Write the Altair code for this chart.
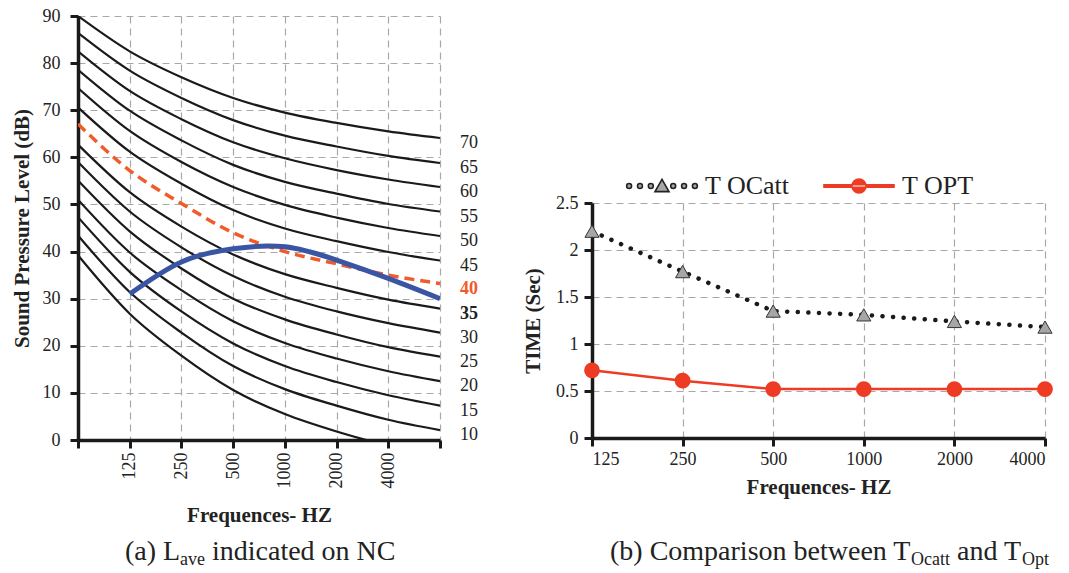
import json
import altair as alt
import pandas as pd

FONT = "Liberation Serif"

# ---------------- panel (a): NC curves ----------------
x_pos = [0, 1, 2, 3, 4, 5, 6, 7]
freq_labels_a = ["", "125", "250", "500", "1000", "2000", "4000", ""]

nc70 = [90.0, 82.5, 77.0, 72.6, 69.5, 67.3, 65.5, 64.1]
nc65 = [86.4, 78.4, 72.6, 67.9, 64.6, 62.3, 60.3, 58.8]
nc60 = [82.5, 74.1, 68.1, 63.2, 59.8, 57.3, 55.3, 53.7]
nc55 = [78.6, 69.9, 63.6, 58.4, 54.8, 52.3, 50.1, 48.5]
nc50 = [74.7, 65.6, 59.0, 53.7, 49.9, 47.2, 45.0, 43.3]
nc45 = [70.6, 61.2, 54.4, 48.8, 44.9, 42.2, 39.9, 38.1]
nc40 = [67.1, 57.2, 50.2, 44.0, 40.0, 37.4, 35.0, 33.2]
nc35 = [62.7, 52.6, 45.3, 39.4, 35.2, 32.3, 29.8, 27.9]
nc30 = [59.0, 48.5, 40.9, 34.8, 30.4, 27.3, 24.8, 22.8]
nc25 = [55.1, 44.3, 36.4, 30.0, 25.6, 22.4, 19.7, 17.7]
nc20 = [51.0, 39.8, 31.8, 25.2, 20.6, 17.3, 14.6, 12.5]
nc15 = [47.3, 35.7, 27.3, 20.5, 15.7, 12.3, 9.5, 7.3]
nc10 = [43.4, 31.4, 22.8, 15.7, 10.8, 7.3, 4.3, 2.1]
nc05 = [39.2, 26.8, 17.9, 10.6, 5.5, 1.8, -1.2, -3.5]

lave_pos = [1, 2, 3, 4, 5, 6, 7]
lave = [31.0, 37.8, 40.6, 41.0, 38.2, 34.3, 30.0]

black_curves = {
    "70": nc70, "65": nc65, "60": nc60, "55": nc55, "50": nc50, "45": nc45,
    "35": nc35, "30": nc30, "25": nc25, "20": nc20, "15": nc15, "10": nc10,
    "05": nc05,
}
label_names = ["70", "65", "60", "55", "50", "45", "35", "30", "25", "20", "15", "10"]

rows = []
for name, vals in black_curves.items():
    for p, v in zip(x_pos, vals):
        rows.append({"nc": name, "pos": p, "db": v})
df_black = pd.DataFrame(rows)
df_orange = pd.DataFrame({"pos": x_pos, "db": nc40})
df_blue = pd.DataFrame({"pos": lave_pos, "db": lave})
df_lab = pd.DataFrame({
    "lab": label_names,
    "pos": [x_pos[-1]] * len(label_names),
    "db": [black_curves[n][-1] for n in label_names],
})
df_lab_norm = df_lab[df_lab["lab"] != "35"]
df_lab_35 = df_lab[df_lab["lab"] == "35"]
df_lab_40 = pd.DataFrame({"lab": ["40"], "pos": [x_pos[-1]], "db": [nc40[-1]]})

WA, HA = 362, 424

xa = alt.X(
    "pos:Q",
    scale=alt.Scale(domain=[0, 7], nice=False, zero=False),
    axis=alt.Axis(
        values=x_pos,
        labelExpr=json.dumps(freq_labels_a) + "[datum.value]",
        labelAngle=270,
        title="Frequences- HZ",
        titlePadding=16,
        labelPadding=4,
    ),
)
ya = alt.Y(
    "db:Q",
    scale=alt.Scale(domain=[0, 90], nice=False),
    axis=alt.Axis(values=list(range(0, 91, 10)), title="Sound Pressure Level (dB)",
                  labelPadding=10, titlePadding=10),
)

black = alt.Chart(df_black).mark_line(
    color="#1a1a1a", strokeWidth=2.2, interpolate="monotone", clip=True
).encode(x=xa, y=ya, detail="nc:N")

orange = alt.Chart(df_orange).mark_line(
    color="#f15a29", strokeWidth=3.5, strokeDash=[10, 6], interpolate="monotone", clip=True
).encode(x="pos:Q", y="db:Q")

blue = alt.Chart(df_blue).mark_line(
    color="#3b55a5", strokeWidth=5, interpolate="natural", clip=True
).encode(x="pos:Q", y="db:Q")

lab_norm = alt.Chart(df_lab_norm).mark_text(
    align="left", baseline="middle", dx=20, dy=5, font=FONT, fontSize=18, color="#222"
).encode(x="pos:Q", y="db:Q", text="lab:N")
lab_35 = alt.Chart(df_lab_35).mark_text(
    align="left", baseline="middle", dx=20, dy=5, font=FONT, fontSize=18,
    fontWeight="bold", color="#222"
).encode(x="pos:Q", y="db:Q", text="lab:N")
lab_40 = alt.Chart(df_lab_40).mark_text(
    align="left", baseline="middle", dx=20, dy=5, font=FONT, fontSize=18,
    fontWeight="bold", color="#f15a29"
).encode(x="pos:Q", y="db:Q", text="lab:N")

one = pd.DataFrame({"k": [0]})
CAP = 28
SUB = 18


def cap(txt, x, y, size):
    return alt.Chart(one).mark_text(
        text=txt, align="left", baseline="alphabetic", font=FONT, fontSize=size, color="#222"
    ).encode(x=alt.value(x), y=alt.value(y))


cap_a = [
    cap("(a) L", 47, 544, CAP),
    cap("ave", 102, 549, SUB),
    cap("indicated on NC", 134, 544, CAP),
]

left = alt.layer(black, orange, blue, lab_norm, lab_35, lab_40, *cap_a).properties(
    width=WA, height=HA
)

# ---------------- panel (b): reverberation times ----------------
idx_b = [0, 1, 2, 3, 4, 5]
freq_labels_b = ["125", "250", "500", "1000", "2000", "4000"]
t_ocatt = [2.2, 1.77, 1.35, 1.31, 1.24, 1.18]
t_opt = [0.72, 0.61, 0.52, 0.52, 0.52, 0.52]
series_names = ["T OCatt", "T OPT"]

df_oc = pd.DataFrame({"idx": idx_b, "t": t_ocatt, "series": series_names[0]})
df_op = pd.DataFrame({"idx": idx_b, "t": t_opt, "series": series_names[1]})
df_leg = pd.concat([df_oc, df_op])

WB, HB = 453, 235

xb = alt.X(
    "idx:Q",
    scale=alt.Scale(domain=[0, 5], nice=False, zero=False),
    axis=alt.Axis(values=idx_b, labelExpr=json.dumps(freq_labels_b) + "[datum.value]",
                  labelAngle=0, title="Frequences- HZ", labelPadding=4, titlePadding=8),
)
yb = alt.Y(
    "t:Q",
    scale=alt.Scale(domain=[0, 2.5], nice=False),
    axis=alt.Axis(values=[0, 0.5, 1, 1.5, 2, 2.5], format=".1~f", title="TIME (Sec)",
                  labelPadding=6, titlePadding=12),
)

oc_line = alt.Chart(df_oc).mark_line(
    color="#1a1a1a", strokeWidth=4.5, strokeDash=[0.1, 10.5], strokeCap="round"
).encode(x=xb, y=yb)
oc_pts = alt.Chart(df_oc).mark_point(
    shape="triangle-up", filled=True, fill="#a6a6a6", stroke="#333333",
    strokeWidth=1, size=200, opacity=1
).encode(x="idx:Q", y="t:Q")
op_line = alt.Chart(df_op).mark_line(color="#ee3b24", strokeWidth=2.5).encode(
    x="idx:Q", y="t:Q"
)
op_pts = alt.Chart(df_op).mark_point(
    shape="circle", filled=True, fill="#ee3b24", stroke="#ee3b24", size=190, opacity=1
).encode(x="idx:Q", y="t:Q")

dot = "m -0.35,0 a 0.35,0.35 0 1,0 0.7,0 a 0.35,0.35 0 1,0 -0.7,0"
path_oc = (
    "M -1,0.8 L 0,-0.95 L 1,0.8 Z "
    + " ".join(f"M {x},0 {dot}" for x in [-4.7, -3.15, -1.6, 1.6, 3.15, 4.7])
)
path_op = (
    "M -5,-0.17 L 5,-0.17 L 5,0.17 L -5,0.17 Z "
    "M -1,0 a 1,1 0 1,0 2,0 a 1,1 0 1,0 -2,0"
)

leg = alt.Legend(
    orient="none", legendX=571, legendY=157, direction="horizontal", title=None,
    labelFont=FONT, labelFontSize=26, labelColor="#222", symbolSize=196,
    symbolStrokeWidth=1.6, labelOffset=30, columnPadding=30, padding=0,
)
legend_layer = alt.Chart(df_leg).mark_point(filled=True, opacity=1, size=196).encode(
    x="idx:Q",
    y="t:Q",
    shape=alt.Shape("series:N", scale=alt.Scale(domain=series_names, range=[path_oc, path_op]), legend=leg),
    fill=alt.Fill("series:N", scale=alt.Scale(domain=series_names, range=["#a6a6a6", "#ee3b24"]), legend=leg),
    stroke=alt.Stroke("series:N", scale=alt.Scale(domain=series_names, range=["#222222", "#ee3b24"]), legend=leg),
).transform_filter("datum.t < -100")

cap_b = [
    cap("(b) Comparison between T", 18, 357, CAP),
    cap("Ocatt", 319, 362, SUB),
    cap("and T", 365, 357, CAP),
    cap("Opt", 430, 362, SUB),
]

right = alt.layer(oc_line, op_line, oc_pts, op_pts, legend_layer, *cap_b).properties(
    width=WB, height=HB
)

spacer = alt.Chart(one).mark_point(opacity=0).encode(
    x=alt.X("k:Q", axis=None), y=alt.Y("k:Q", axis=None)
).properties(width=WB, height=167)

chart = alt.hconcat(
    left,
    alt.vconcat(spacer, right, spacing=20, bounds="flush"),
    spacing=152,
    bounds="flush",
).properties(
    padding={"left": 11, "top": 7, "right": 5, "bottom": 5}
).configure_view(strokeWidth=0).configure_axis(
    labelFont=FONT, titleFont=FONT, labelFontSize=18, titleFontSize=21,
    titleFontWeight="bold", labelColor="#222", titleColor="#222",
    domainColor="#1a1a1a", domainWidth=3.5, tickColor="#1a1a1a", tickWidth=3,
    tickSize=8, gridColor="#a8a8a8", gridDash=[7, 5], gridWidth=1.2,
).configure_text(font=FONT)

chart.save("out.html", embed_options={"renderer": "svg", "actions": False})
